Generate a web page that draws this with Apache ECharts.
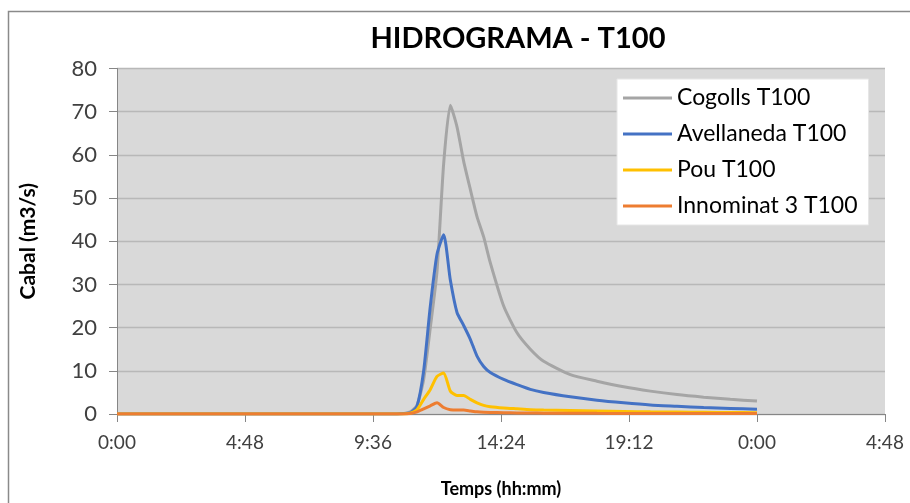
<!DOCTYPE html>
<html>
<head>
<meta charset="utf-8">
<script src="https://cdn.jsdelivr.net/npm/echarts@6/dist/echarts.min.js"></script>
<style>html,body{margin:0;padding:0;background:#fff;}#c{width:910px;height:503px;}</style>
</head>
<body>
<div id="c"></div>
<script>
const titleText = 'HIDROGRAMA - T100';
const xAxisName = 'Temps (hh:mm)';
const yAxisName = 'Cabal (m3/s)';
const seriesNames = ['Cogolls T100', 'Avellaneda T100', 'Pou T100', 'Innominat 3 T100'];
// time in hours from 0:00
const hours = [0, 10, 10.5, 10.75, 11, 11.25, 11.5, 11.75, 12, 12.25, 12.5, 12.75, 13, 13.25, 13.5, 13.75, 14, 14.5, 15, 15.5, 16, 17, 18, 19, 20, 21, 22, 23, 24];
const cogolls = [0, 0, 0, 0.1, 0.5, 2, 8, 20, 33, 58, 71.5, 66.5, 58.5, 52, 45.7, 41, 35, 25, 18.8, 15, 12.2, 9.1, 7.6, 6.3, 5.3, 4.5, 3.9, 3.4, 3.0];
const avellaneda = [0, 0, 0, 0.1, 0.3, 1.8, 10, 25, 37, 41.5, 31, 23.5, 20.5, 17.3, 13.4, 11, 9.6, 8, 6.8, 5.7, 5, 4, 3.2, 2.6, 2.1, 1.8, 1.5, 1.3, 1.1];
const pou = [0, 0, 0, 0, 0.2, 1, 3.4, 5.7, 8.7, 9.5, 5.3, 4.3, 4.3, 3.4, 2.6, 2.0, 1.7, 1.4, 1.2, 1.0, 0.9, 0.8, 0.7, 0.6, 0.5, 0.45, 0.4, 0.35, 0.3];
const innominat = [0, 0, 0, 0, 0.1, 0.5, 1.2, 1.9, 2.6, 1.5, 1.0, 0.9, 0.9, 0.7, 0.5, 0.4, 0.35, 0.3, 0.25, 0.22, 0.2, 0.18, 0.15, 0.14, 0.13, 0.12, 0.11, 0.1, 0.1];
const colors = ['#A5A5A5', '#4472C4', '#FFC000', '#ED7D31'];

const allValues = [cogolls, avellaneda, pou, innominat];
const FONT = 'Lato, "Open Sans", sans-serif';

function fmt(v) {
  const tot = Math.round(v * 60);
  const h = Math.floor(tot / 60) % 24;
  const m = tot % 60;
  return h + ':' + (m < 10 ? '0' + m : m);
}

const chart = echarts.init(document.getElementById('c'), null, {renderer: 'canvas'});
chart.setOption({
  animation: false,
  backgroundColor: '#fff',
  color: colors,
  title: {
    text: titleText,
    left: 513,
    textAlign: 'center',
    top: 19,
    textStyle: {fontFamily: FONT, fontSize: 29, fontWeight: 'bold', color: '#000'}
  },
  graphic: [{
    type: 'rect', silent: true, z: -1,
    shape: {x: 8.5, y: 11.5, width: 1000, height: 1000},
    style: {fill: null, stroke: '#8a8a8a', lineWidth: 1.5}
  }],
  legend: {
    orient: 'vertical',
    left: 617, top: 79,
    padding: [7, 11, 7, 6],
    backgroundColor: '#fff',
    borderColor: '#e6e6e6', borderWidth: 1,
    itemWidth: 49, itemHeight: 3, itemGap: 12,
    icon: 'rect',
    textStyle: {fontFamily: FONT, fontSize: 23, color: '#000', lineHeight: 24},
    data: seriesNames
  },
  grid: {left: 117, top: 68.5, right: 25, bottom: 88.5, backgroundColor: '#D9D9D9', show: true, borderWidth: 0},
  xAxis: {
    type: 'value', min: 0, max: 28.8, interval: 4.8,
    name: xAxisName, nameLocation: 'middle', nameGap: 66,
    nameTextStyle: {fontFamily: FONT, fontSize: 18, fontWeight: 'bold', color: '#000'},
    axisLine: {show: true, lineStyle: {color: '#868686', width: 1}},
    axisTick: {show: true, length: 8, lineStyle: {color: '#868686'}},
    splitLine: {show: false},
    axisLabel: {formatter: fmt, fontFamily: FONT, fontSize: 19, color: '#404040', margin: 19, showMaxLabel: true}
  },
  yAxis: {
    type: 'value', min: 0, max: 80, interval: 10,
    name: yAxisName, nameLocation: 'middle', nameGap: 78, nameRotate: 90,
    nameTextStyle: {fontFamily: FONT, fontSize: 21, fontWeight: 'bold', color: '#000'},
    axisLine: {show: true, lineStyle: {color: '#868686', width: 1}},
    axisTick: {show: true, length: 8, inside: false, lineStyle: {color: '#868686'}},
    splitLine: {show: true, lineStyle: {color: '#B8B8B8', width: 1.3}},
    axisLabel: {fontFamily: FONT, fontSize: 22, color: '#404040', margin: 20}
  },
  series: seriesNames.map((n, i) => ({
    name: n, type: 'line', showSymbol: false, symbol: 'none',
    smooth: 0.2,
    lineStyle: {width: 3, color: colors[i]},
    data: hours.map((t, k) => [t, allValues[i][k]]),
    z: 2 + i
  }))
});
</script>
</body>
</html>
